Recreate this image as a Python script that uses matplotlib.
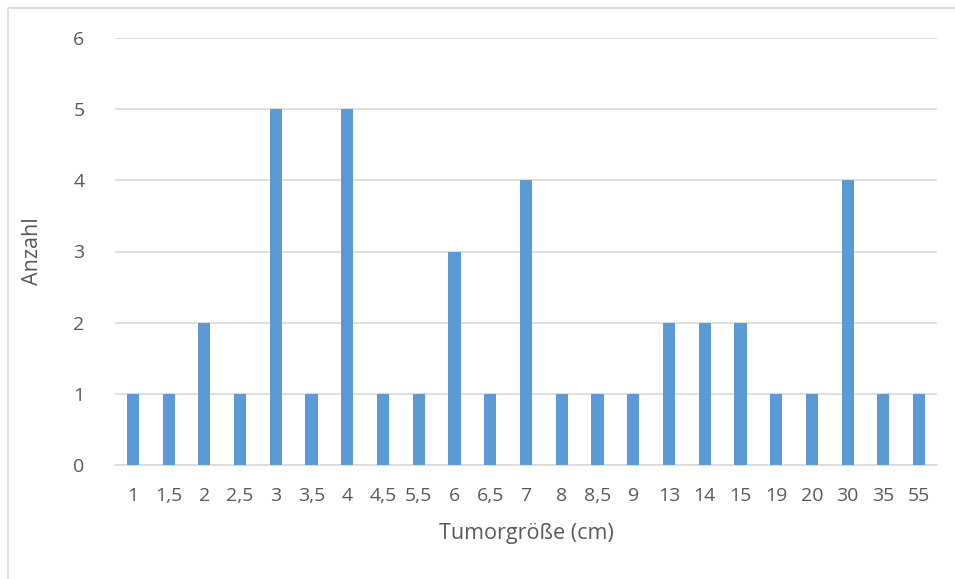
import matplotlib.pyplot as plt
from matplotlib.lines import Line2D

# Tumorgröße categories and counts
sizes = ["1", "1,5", "2", "2,5", "3", "3,5", "4", "4,5", "5,5", "6", "6,5", "7",
         "8", "8,5", "9", "13", "14", "15", "19", "20", "30", "35", "55"]
counts = [1, 1, 2, 1, 5, 1, 5, 1, 1, 3, 1, 4, 1, 1, 1, 2, 2, 2, 1, 1, 4, 1, 1]
yticks = [0, 1, 2, 3, 4, 5, 6]

plt.rcParams['font.family'] = ['Open Sans', 'DejaVu Sans']
text_col = "#595959"

W, H = 955, 579
fig = plt.figure(figsize=(W / 100, H / 100), dpi=100)
ax = fig.add_axes([115 / W, (H - 465) / H, (937 - 115) / W, (465 - 38) / H])

x = range(len(sizes))
ax.bar(x, counts, width=0.34, color="#5B9BD5", zorder=3)

ax.set_xlim(-0.5, len(sizes) - 0.5)
ax.set_ylim(0, 6)
ax.set_yticks(yticks)
ax.set_xticks(list(x))
ax.set_xticklabels(sizes)
ax.grid(axis="y", color="#D9D9D9", linewidth=1.2, zorder=0)
for side in ["top", "right", "left"]:
    ax.spines[side].set_visible(False)
ax.spines["bottom"].set_color("#D9D9D9")
ax.spines["bottom"].set_linewidth(1.2)
ax.tick_params(axis="both", length=0, colors=text_col, labelsize=14)
ax.tick_params(axis="y", pad=22)
ax.tick_params(axis="x", pad=16)

ax.set_xlabel("Tumorgröße (cm)", fontsize=15.5, color=text_col, labelpad=13)
ax.set_ylabel("Anzahl", fontsize=15.5, color=text_col, labelpad=22)

# light outer frame (left and top edges visible)
fig.add_artist(Line2D([7.5 / W, 7.5 / W, 1], [0, 1 - 8 / H, 1 - 8 / H],
                      transform=fig.transFigure, color="#D9D9D9", linewidth=1.2))

fig.savefig("out.png", dpi=100)
